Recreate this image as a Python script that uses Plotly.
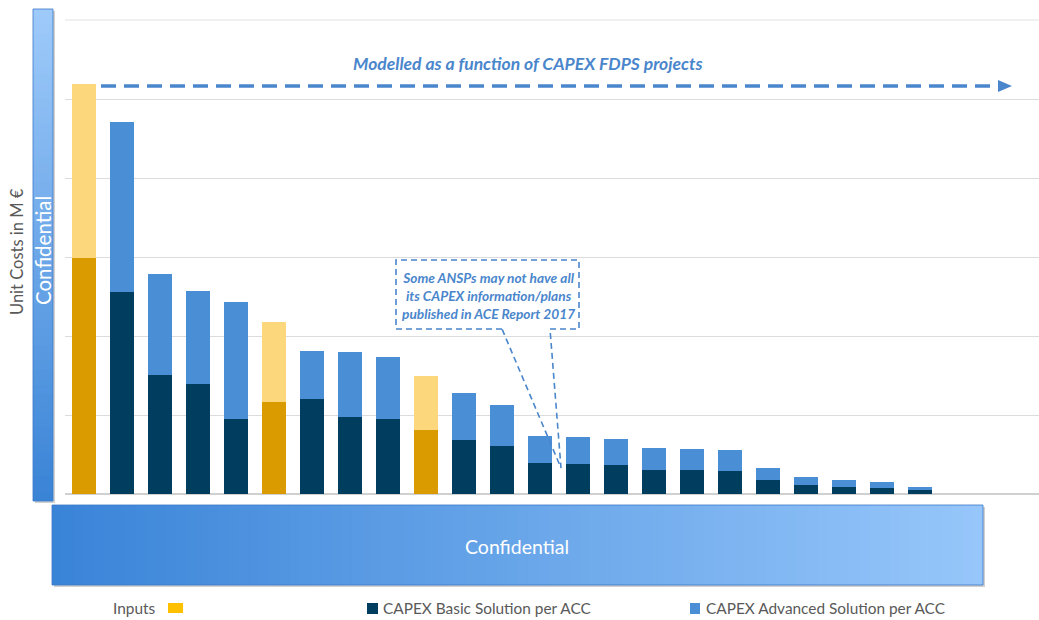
import plotly.graph_objects as go

# ACC identifiers (names withheld), one stacked bar per ACC
accs = [f"ACC {i:02d}" for i in range(1, 24)]

# Unit costs in M€ (axis values hidden on the published chart)
inputs_base = [29.9, None, None, None, None, 11.6, None, None, None, 8.1,
               None, None, None, None, None, None, None, None, None, None,
               None, None, None]
inputs_extra = [22.0, None, None, None, None, 10.2, None, None, None, 6.8,
                None, None, None, None, None, None, None, None, None, None,
                None, None, None]
capex_basic = [None, 25.6, 15.1, 13.9, 9.5, None, 12.0, 9.7, 9.5, None,
               6.8, 6.1, 3.9, 3.8, 3.7, 3.0, 3.0, 2.9, 1.8, 1.1,
               0.9, 0.8, 0.5]
capex_advanced_extra = [None, 21.5, 12.7, 11.8, 14.8, None, 6.1, 8.3, 7.8, None,
                        6.0, 5.2, 3.4, 3.4, 3.3, 2.8, 2.7, 2.7, 1.5, 1.1,
                        0.9, 0.7, 0.4]

GOLD_DARK = "#d99b00"
GOLD_LIGHT = "#fdd77c"
NAVY = "#003d5f"
BLUE = "#4a8fd6"
ACCENT = "#4a86cc"
GREY_TXT = "#595959"

W, H = 1039, 620
L, R, T, B = 65, 0, 20, 126
PW, PH = W - L - R, H - T - B


def px(x):
    return (x - L) / PW


def py(y):
    return (H - B - y) / PH


fig = go.Figure()
for vals, col in [(inputs_base, GOLD_DARK), (inputs_extra, GOLD_LIGHT),
                  (capex_basic, NAVY), (capex_advanced_extra, BLUE)]:
    fig.add_trace(go.Bar(x=accs, y=vals, marker=dict(color=col, line=dict(width=0)),
                         showlegend=False, hoverinfo="skip"))

shapes = []
annotations = []


def lerp(c1, c2, t):
    return "rgb(%d,%d,%d)" % tuple(round(a + (b - a) * t) for a, b in zip(c1, c2))


# top gridline sits on the edge of the plot area
shapes.append(dict(type="line", xref="paper", yref="paper", x0=0, x1=1, y0=1, y1=1,
                   line=dict(color="#e2e2e2", width=1), layer="below"))

# left "Confidential" band: shadow, vertical gradient, outline
x0, x1, y0, y1 = 33, 53, 9, 501
shapes.append(dict(type="rect", xref="paper", yref="paper", x0=px(x0 + 2), x1=px(x1 + 2),
                   y0=py(y1 + 2), y1=py(y0 + 2), fillcolor="rgba(0,0,0,0.18)", line_width=0))
n = 60
for i in range(n):
    ya = y0 + (y1 - y0) * i / n
    yb = y0 + (y1 - y0) * (i + 1) / n + 0.8
    shapes.append(dict(type="rect", xref="paper", yref="paper", x0=px(x0), x1=px(x1),
                       y0=py(min(yb, y1)), y1=py(ya),
                       fillcolor=lerp((158, 202, 250), (58, 132, 214), i / (n - 1)), line_width=0))
shapes.append(dict(type="rect", xref="paper", yref="paper", x0=px(x0), x1=px(x1),
                   y0=py(y1), y1=py(y0), line=dict(color="rgba(60,120,200,0.8)", width=1)))

# bottom "Confidential" band: shadow, horizontal gradient, outline
x0, x1, y0, y1 = 52, 983, 505, 585
shapes.append(dict(type="rect", xref="paper", yref="paper", x0=px(x0 + 2), x1=px(x1 + 2),
                   y0=py(y1 + 2), y1=py(y0 + 2), fillcolor="rgba(0,0,0,0.18)", line_width=0))
n = 90
for i in range(n):
    xa = x0 + (x1 - x0) * i / n
    xb = x0 + (x1 - x0) * (i + 1) / n + 0.8
    shapes.append(dict(type="rect", xref="paper", yref="paper", x0=px(xa), x1=px(min(xb, x1)),
                       y0=py(y1), y1=py(y0),
                       fillcolor=lerp((58, 132, 216), (150, 198, 250), i / (n - 1)), line_width=0))
shapes.append(dict(type="rect", xref="paper", yref="paper", x0=px(x0), x1=px(x1),
                   y0=py(y1), y1=py(y0), line=dict(color="rgba(60,120,200,0.8)", width=1)))

# dashed arrow across the top
shapes.append(dict(type="line", xref="paper", yref="paper", x0=px(101), x1=px(1000),
                   y0=py(86), y1=py(86), line=dict(color=ACCENT, width=3.5, dash="15px,8px")))
shapes.append(dict(type="path", xref="paper", yref="paper",
                   path=f"M {px(998)} {py(80)} L {px(1012)} {py(86)} L {px(998)} {py(92)} Z",
                   fillcolor=ACCENT, line_width=0))

# dashed callout with pointer
pts = [(502, 329), (396, 329), (396, 260), (579, 260), (579, 329), (550, 329), (561, 468), (502, 329)]
path = "M " + " L ".join(f"{px(a)} {py(b)}" for a, b in pts)
shapes.append(dict(type="path", xref="paper", yref="paper", path=path,
                   line=dict(color=ACCENT, width=1.6, dash="6px,4px")))

# legend swatches
shapes.append(dict(type="rect", xref="paper", yref="paper", x0=px(168), x1=px(183),
                   y0=py(613), y1=py(603), fillcolor="#ffc000", line_width=0))
shapes.append(dict(type="rect", xref="paper", yref="paper", x0=px(367), x1=px(378),
                   y0=py(614), y1=py(603), fillcolor=NAVY, line_width=0))
shapes.append(dict(type="rect", xref="paper", yref="paper", x0=px(690), x1=px(700),
                   y0=py(614), y1=py(603), fillcolor=BLUE, line_width=0))


def text(x, y, s, size, color, anchor="center", angle=0, family="Lato, 'Open Sans', sans-serif"):
    annotations.append(dict(x=px(x), y=py(y), xref="paper", yref="paper", text=s,
                            showarrow=False, xanchor=anchor, yanchor="middle",
                            textangle=angle, font=dict(family=family, size=size, color=color)))


text(17, 252, "Unit Costs in M €", 16.5, GREY_TXT, angle=-90)
text(43, 251, "Confidential", 20.5, "white", angle=-90)
text(517, 546, "Confidential", 19.5, "white")
text(527, 63, "<b><i>Modelled as a function of CAPEX FDPS projects</i></b>", 17.5, ACCENT)
text(488, 295, "<b><i>Some ANSPs may not have all<br>its CAPEX information/plans<br>"
     "published in ACE Report 2017</i></b>", 13.7, ACCENT)
text(158, 608, "Inputs", 15.4, GREY_TXT, anchor="right")
text(381, 608, "CAPEX Basic Solution per ACC", 15.4, GREY_TXT, anchor="left")
text(704, 608, "CAPEX Advanced Solution per ACC", 15.4, GREY_TXT, anchor="left")

fig.update_layout(
    barmode="stack",
    bargap=0.37,
    width=W, height=H,
    margin=dict(l=L, r=R, t=T, b=B),
    paper_bgcolor="white", plot_bgcolor="white",
    shapes=shapes, annotations=annotations,
    xaxis=dict(range=[-0.5, 25.13], showticklabels=False, showgrid=False,
               zeroline=False, showline=False, ticks=""),
    yaxis=dict(range=[0, 60], dtick=10, showticklabels=False, showgrid=True,
               gridcolor="#dcdcdc", gridwidth=1, zeroline=True, zerolinecolor="#d0d0d0",
               zerolinewidth=1.5, ticks=""),
)

fig.write_html("out.html")
